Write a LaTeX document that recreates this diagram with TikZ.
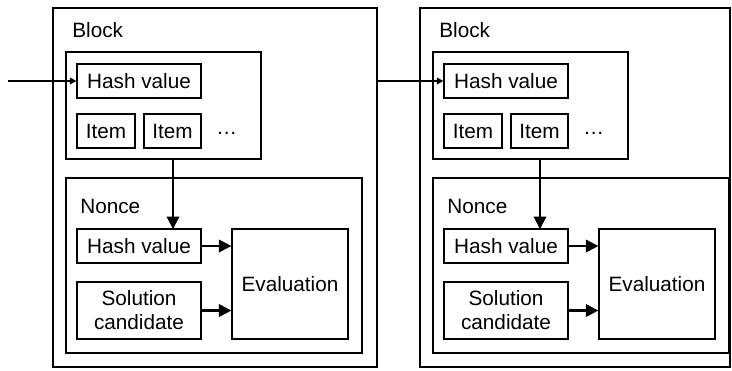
\documentclass[tikz,border=0pt]{standalone}
\usepackage{fontspec}
\setmainfont{Liberation Sans}
\usetikzlibrary{arrows.meta}

\begin{document}
\begin{tikzpicture}[x=0.02cm, y=-0.02cm,
	box/.style={draw, line width=0.7pt, inner sep=0pt, align=center, font=\fontsize{11.8pt}{13.6pt}\selectfont},
	lbl/.style={anchor=west, inner sep=0pt, font=\fontsize{11.8pt}{13.6pt}\selectfont},
	flow/.style={line width=1.2pt, -{Triangle[length=0.25cm, width=0.25cm]}},
	link/.style={line width=1pt, -{Triangle[length=0.13cm, width=0.13cm]}}]
	\path[use as bounding box] (0,0) rectangle (732,370);

	\foreach \b/\dx/\w in {A/0/324, B/367/310} {
		\begin{scope}[xshift=\dx*0.02cm]
		\node[box, minimum width=\w*0.02cm, minimum height=359*0.02cm] (outer\b) at ({53+\w/2},187.5) {};
		\node[lbl] (block\b) at (72,30) {Block};
		\node[box, minimum width=195*0.02cm, minimum height=107*0.02cm] (head\b) at (163.5,105.5) {};
		\node[box, minimum width=124*0.02cm, minimum height=34*0.02cm] (hash\b) at (139,81) {Hash value};
		\node[box, minimum width=58*0.02cm, minimum height=34*0.02cm] (itema\b) at (106,131) {Item};
		\node[box, minimum width=57*0.02cm, minimum height=34*0.02cm] (itemb\b) at (172.5,131) {Item};
		\node[lbl] (dots\b) at (216,133) {\dots};

		\node[box, minimum width=296*0.02cm, minimum height=175*0.02cm] (nonce\b) at (214,265.5) {};
		\node[lbl] (noncelbl\b) at (80,206) {Nonce};
		\node[box, minimum width=124*0.02cm, minimum height=34*0.02cm] (nhash\b) at (139,246) {Hash value};
		\node[box, minimum width=124*0.02cm, minimum height=57*0.02cm] (sol\b) at (139,310.5) {Solution\\candidate};
		\node[box, minimum width=116*0.02cm, minimum height=110*0.02cm] (eval\b) at (290,284) {Evaluation};

		\coordinate (tap\b) at (173,229);
		\draw[flow] (head\b.south -| tap\b) -- (tap\b);
		\draw[flow] (nhash\b.east) -- (eval\b.west |- nhash\b.east);
		\draw[flow] (sol\b.east) -- (eval\b.west |- sol\b.east);
		\end{scope}
	}

	\coordinate (in) at (8,81);
	\draw[link] (in) -- (hashA.west);
	\draw[link] (outerA.east |- hashB.west) -- (hashB.west);
\end{tikzpicture}
\end{document}
